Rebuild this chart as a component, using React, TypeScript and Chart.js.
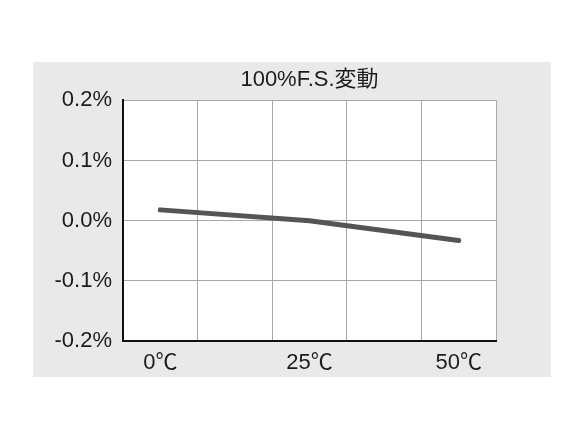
import React, { useEffect, useRef } from "react";
import { Chart, registerables } from "chart.js";

Chart.register(...registerables);

const TITLE = "100%F.S.変動";
const TEMPS = [0, 25, 50];
const VARIATION = [0.018, 0.0, -0.033];
const X_LABELS = ["0℃", "25℃", "50℃"];
const X_GRID = [-6.25, 6.25, 18.75, 31.25, 43.75, 56.25];
const Y_MIN = -0.2;
const Y_MAX = 0.2;

const FONT = "'Liberation Sans', Arial, 'Noto Sans CJK JP', sans-serif";

const bgPlugin = {
  id: "bg",
  beforeDraw(chart: any) {
    const { ctx, width, height } = chart;
    ctx.save();
    ctx.fillStyle = "#e9e9e9";
    ctx.fillRect(0, 0, width, height);
    const a = chart.chartArea;
    ctx.fillStyle = "#ffffff";
    ctx.fillRect(a.left, a.top, a.right - a.left, a.bottom - a.top);
    ctx.restore();
  },
};

export default function App() {
  const ref = useRef<HTMLCanvasElement>(null);
  useEffect(() => {
    if (!ref.current) return;
    const chart = new Chart(ref.current, {
      type: "line",
      data: {
        datasets: [
          {
            data: TEMPS.map((t, i) => ({ x: t, y: VARIATION[i] })),
            borderColor: "#555555",
            borderWidth: 5,
            pointRadius: 0,
            borderCapStyle: "round",
            borderJoinStyle: "round",
            tension: 0,
          },
        ],
      },
      options: {
        animation: false,
        responsive: false,
        maintainAspectRatio: false,
        layout: { padding: { left: 0, right: 55, top: 0, bottom: 0 } },
        plugins: {
          legend: { display: false },
          tooltip: { enabled: false },
          title: {
            display: true,
            fullSize: false,
            text: TITLE,
            color: "#1c1c1c",
            font: { family: FONT, size: 22, weight: "normal", lineHeight: 1.2 },
            padding: { top: 5, bottom: 7 },
          },
        },
        scales: {
          x: {
            type: "linear",
            min: X_GRID[0],
            max: X_GRID[X_GRID.length - 1],
            afterBuildTicks: (axis: any) => {
              const vals = [...X_GRID, ...TEMPS].sort((a, b) => a - b);
              axis.ticks = vals.map((v) => ({ value: v }));
            },
            afterFit: (axis: any) => {
              axis.height = 36;
            },
            grid: {
              color: (ctx: any) =>
                ctx.tick && TEMPS.includes(ctx.tick.value) ? "rgba(0,0,0,0)" : "#a8a8a8",
              lineWidth: 1,
              drawTicks: false,
            },
            border: { color: "#111111", width: 2 },
            ticks: {
              autoSkip: false,
              maxRotation: 0,
              padding: 9,
              color: "#1c1c1c",
              font: { family: FONT, size: 22 },
              callback: (v: any) => {
                const i = TEMPS.indexOf(Number(v));
                return i >= 0 ? X_LABELS[i] : "";
              },
            },
          },
          y: {
            min: Y_MIN,
            max: Y_MAX,
            afterFit: (axis: any) => {
              axis.width = 90;
            },
            grid: { color: "#a8a8a8", lineWidth: 1, drawTicks: false },
            border: { color: "#111111", width: 2 },
            ticks: {
              stepSize: 0.1,
              padding: 11,
              color: "#1c1c1c",
              font: { family: FONT, size: 22 },
              callback: (v: any) => {
                const n = Math.abs(Number(v)) < 1e-9 ? 0 : Number(v);
                return n.toFixed(1) + "%";
              },
            },
          },
        },
      },
      plugins: [bgPlugin],
    } as any);
    return () => chart.destroy();
  }, []);

  return (
    <div style={{ position: "absolute", left: 0, top: 0, width: 583, height: 437, background: "#ffffff" }}>
      <div style={{ position: "absolute", left: 33, top: 62, width: 518, height: 315 }}>
        <canvas ref={ref} width={518} height={315} style={{ width: 518, height: 315, display: "block" }} />
      </div>
    </div>
  );
}
